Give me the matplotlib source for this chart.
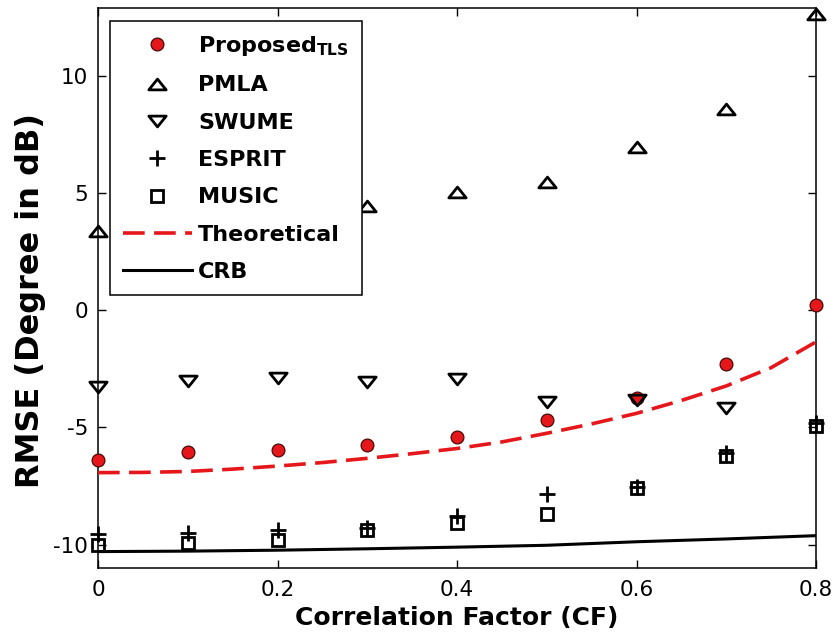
import matplotlib
matplotlib.use("Agg")
import matplotlib.pyplot as plt
from matplotlib.path import Path

plt.rcParams["font.family"] = ["DejaVu Sans"]
plt.rcParams["mathtext.fontset"] = "dejavusans"
plt.rcParams["axes.unicode_minus"] = False

nan = float("nan")

# correlation factor grid for the simulated estimators
cf = [0.0, 0.1, 0.2, 0.3, 0.4, 0.5, 0.6, 0.7, 0.8]
proposed_tls = [-6.38, -6.03, -5.97, -5.74, -5.43, -4.68, -3.73, -2.31, 0.21]
pmla = [3.40, 4.10, 4.30, 4.47, 5.04, 5.46, 6.95, 8.61, 12.65]
swume = [-3.29, -3.02, -2.91, -3.05, -2.94, -3.90, -3.83, -4.18, nan]
esprit = [-9.55, -9.50, -9.36, -9.28, -8.80, -7.84, -7.55, -6.10, -4.81]
music = [-10.00, -9.93, -9.82, -9.36, -9.08, -8.70, -7.60, -6.24, -4.94]
crb = [-10.30, -10.28, -10.24, -10.18, -10.11, -10.03, -9.88, -9.76, -9.62]

# analytical RMSE on a finer grid
cf_fine = [0.0, 0.05, 0.1, 0.15, 0.2, 0.25, 0.3, 0.35, 0.4, 0.45, 0.5,
           0.55, 0.6, 0.65, 0.7, 0.75, 0.8]
theoretical = [-6.93, -6.92, -6.88, -6.78, -6.65, -6.50, -6.32, -6.12, -5.90,
               -5.62, -5.25, -4.85, -4.40, -3.85, -3.23, -2.45, -1.35]

# squat triangles
tri_up = Path([(0, 0.62), (-1, -0.62), (1, -0.62), (0, 0.62)],
              [Path.MOVETO, Path.LINETO, Path.LINETO, Path.CLOSEPOLY])
tri_down = Path([(0, -0.62), (-1, 0.62), (1, 0.62), (0, -0.62)],
                [Path.MOVETO, Path.LINETO, Path.LINETO, Path.CLOSEPOLY])

fig = plt.figure(figsize=(8.36, 6.44), dpi=100)
ax = fig.add_axes([98 / 836, 1 - 568 / 644, 718 / 836, 560 / 644])

ax.plot(cf, proposed_tls, linestyle="none", marker="o", markersize=9.2,
        markerfacecolor="#e5171b", markeredgecolor="#4a0a0a",
        markeredgewidth=0.9, label=r"Proposed$_{\mathbf{TLS}}\ \,$",
        clip_on=False, zorder=5)
ax.plot(cf, pmla, linestyle="none", marker=tri_up, markersize=12.5,
        markerfacecolor="none", markeredgecolor="black",
        markeredgewidth=2.0, label="PMLA", clip_on=False, zorder=5)
ax.plot(cf, swume, linestyle="none", marker=tri_down, markersize=12.5,
        markerfacecolor="none", markeredgecolor="black",
        markeredgewidth=2.0, label="SWUME", clip_on=False, zorder=5)
ax.plot(cf, esprit, linestyle="none", marker="+", markersize=11,
        markeredgecolor="black", markeredgewidth=2.0, label="ESPRIT",
        clip_on=False, zorder=5)
ax.plot(cf, music, linestyle="none", marker="s", markersize=9,
        markerfacecolor="none", markeredgecolor="black",
        markeredgewidth=2.0, label="MUSIC", clip_on=False, zorder=5)
ax.plot(cf_fine, theoretical, color="#e5171b", linewidth=2.6,
        dashes=(6.0, 2.6), label="Theoretical", zorder=4)
ax.plot(cf, crb, color="black", linewidth=2.2, label="CRB", zorder=4)

ax.set_xlim(0, 0.8)
ax.set_ylim(-11.0, 12.9)
ax.set_xticks([0, 0.2, 0.4, 0.6, 0.8])
ax.set_xticklabels(["0", "0.2", "0.4", "0.6", "0.8"])
ax.set_yticks([-10, -5, 0, 5, 10])
ax.tick_params(direction="in", top=True, right=True, length=6, width=1,
               labelsize=15.5)
ax.tick_params(axis="x", pad=9)
ax.tick_params(axis="y", pad=7)
for s in ax.spines.values():
    s.set_linewidth(1.1)

ax.set_xlabel("Correlation Factor (CF)", fontsize=18, fontweight="bold",
              labelpad=4)
ax.set_ylabel("RMSE (Degree in dB)", fontsize=23, fontweight="bold")
ax.yaxis.set_label_coords(-0.072, 0.477)

leg = ax.legend(loc="upper left", bbox_to_anchor=(12 / 718, 547 / 560),
                borderaxespad=0, fancybox=False, framealpha=1,
                edgecolor="black", prop={"size": 16, "weight": "bold"},
                labelspacing=0.78, handlelength=3.1, handletextpad=0.27,
                borderpad=0.585, markerscale=1.0)
leg.get_frame().set_linewidth(1.1)
leg.set_zorder(6)

fig.savefig("out.png", dpi=100)
